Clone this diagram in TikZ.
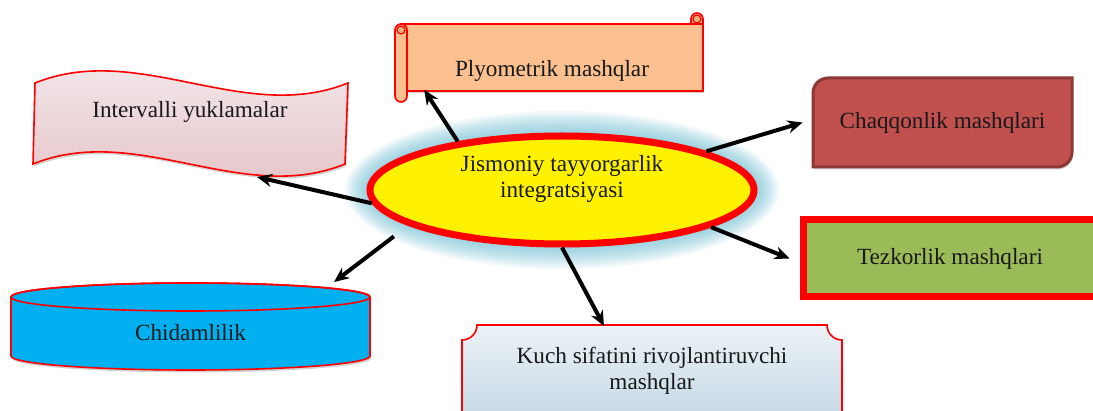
\documentclass[tikz,border=0pt]{standalone}
\usepackage{fontspec}
\setmainfont{Liberation Serif}
\usetikzlibrary{arrows.meta,shapes.geometric,shadows}

\begin{document}
\begin{tikzpicture}[
    x=0.5pt, y=-0.5pt,
    >=Stealth,
    every node/.style={font=\fontsize{11.6}{13}\selectfont, text=black!90},
    link/.style={-{Stealth[length=7.5pt,width=6.5pt]}, line width=2pt},
    softshadow/.style={drop shadow={shadow xshift=0.6pt, shadow yshift=-1.2pt, opacity=0.18, fill=black}},
    thinred/.style={draw=red, line width=0.8pt},
]

\definecolor{scrollPeach}{RGB}{250,192,143}
\definecolor{waveTop}{RGB}{244,236,238}
\definecolor{waveBot}{RGB}{228,192,196}
\definecolor{agileRed}{RGB}{192,80,77}
\definecolor{agileEdge}{RGB}{140,56,54}
\definecolor{speedGreen}{RGB}{155,187,89}
\definecolor{tankBlue}{RGB}{0,176,240}
\definecolor{plaqueTop}{RGB}{236,242,246}
\definecolor{plaqueBot}{RGB}{192,213,227}
\definecolor{glowAqua}{RGB}{75,172,198}

\useasboundingbox (0,0) rectangle (1093,411);
\clip (0,0) rectangle (1093,411);

% ============================================================
% CENTRAL ELLIPSE WITH GLOW
% ============================================================
\foreach \g in {1,...,14} {
    \fill[glowAqua, opacity=0.06] (562,190) ellipse ({192+1.8*\g} and {54+1.8*\g});
}
\node[ellipse, draw=red, line width=3.5pt, fill=yellow,
      minimum width=192pt, minimum height=54pt, inner sep=0pt] (core) at (562,190) {};
\node[align=center] (coretext) at (562,179) {Jismoniy tayyorgarlik\\integratsiyasi};

% ============================================================
% SCROLL (top)
% ============================================================
\fill[scrollPeach, thinred] (691,24) -- (691,19)
    arc[start angle=180, end angle=360, radius=6] -- (703,24) -- cycle;
\node[thinred, fill=scrollPeach, softshadow, minimum width=151pt, minimum height=33.5pt,
      inner sep=0pt] (plyo) at (552,57.5) {};
\draw[thinred, fill=scrollPeach, rounded corners=3pt] (395,24) rectangle (407,102);
\draw[draw=red, line width=0.6pt, fill=scrollPeach!75!brown] (401,30) circle (4);
\draw[draw=red, line width=0.6pt, fill=scrollPeach!75!brown] (697,19) circle (4);
\node (plyotext) at (552,71) {Plyometrik mashqlar};

% ============================================================
% WAVE (left)
% ============================================================
\shadedraw[top color=waveTop, bottom color=waveBot, thinred, softshadow]
    (35,83) .. controls (139,41) and (244,125) .. (348,83)
    -- (345,164) .. controls (242,206) and (137,122) .. (33,164) -- cycle;
\node (interv) at (190,112) {Intervalli yuklamalar};
\coordinate (intervTip) at (257,177);

% ============================================================
% RIGHT BOXES
% ============================================================
\draw[fill=agileRed, draw=agileEdge, line width=1.5pt, softshadow]
    (813,167) -- (813,93) arc[start angle=180, end angle=270, radius=15]
    -- (1072,78) -- (1072,152) arc[start angle=0, end angle=90, radius=15] -- cycle;
\node[minimum width=129.5pt, minimum height=44.5pt, inner sep=0pt] (chaq) at (942.5,122.5)
    {Chaqqonlik mashqlari};

\node[draw=red, fill=speedGreen, line width=3.5pt, softshadow,
      minimum width=147pt, minimum height=38.5pt, inner sep=0pt] (tez) at (950,258.5)
    {Tezkorlik mashqlari};

% ============================================================
% CYLINDER (bottom left)
% ============================================================
\draw[fill=tankBlue, thinred, softshadow]
    (11,297) -- (11,356) arc[start angle=180, end angle=0, x radius=179.5, y radius=14]
    -- (370,297) arc[start angle=0, end angle=-180, x radius=179.5, y radius=14] -- cycle;
\draw[thinred] (190.5,297) ellipse (179.5 and 14);
\node (chid) at (190.5,333) {Chidamlilik};
\coordinate (chidTip) at (334,282);

% ============================================================
% PLAQUE (bottom)
% ============================================================
\shadedraw[top color=plaqueTop, bottom color=plaqueBot, thinred, softshadow]
    (462,340) arc[start angle=90, end angle=0, radius=15] -- (827,325)
    arc[start angle=180, end angle=90, radius=15] -- (842,430) -- (462,430) -- cycle;
\node[align=center] (kuch) at (652,370.5) {Kuch sifatini rivojlantiruvchi\\mashqlar};
\coordinate (kuchTip) at (604,326);

% ============================================================
% ARROWS
% ============================================================
\draw[link] (core.155.6) -- ([xshift=12pt,yshift=1pt]plyo.south west);
\draw[link] (core.184) -- (intervTip);
\draw[link] (core.15.6) -- ([xshift=-5pt]chaq.west);
\draw[link] (core.-14) -- ([xshift=-5pt]tez.west);
\draw[link, shorten <=9pt] (core.193.4) -- (chidTip);
\draw[link] (core.270) -- (kuchTip);

\end{tikzpicture}
\end{document}
